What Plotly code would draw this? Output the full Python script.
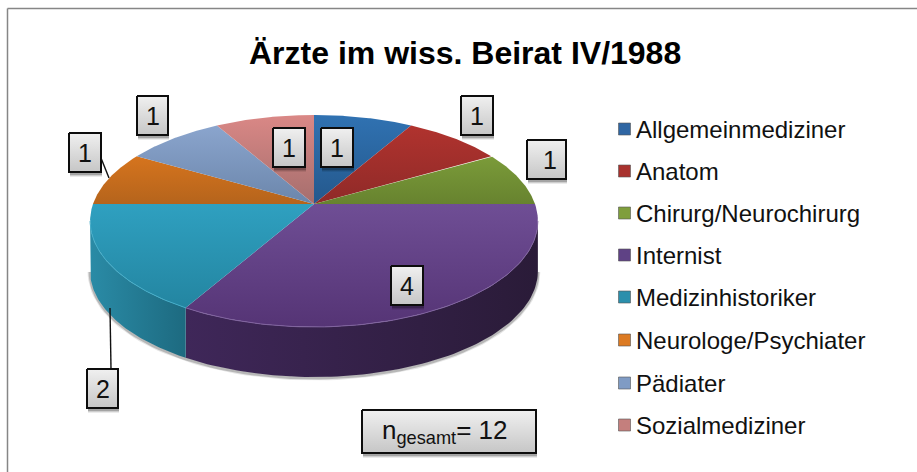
import numpy as np
import plotly.graph_objects as go

title = "Ärzte im wiss. Beirat IV/1988"
categories = ["Allgemeinmediziner", "Anatom", "Chirurg/Neurochirurg", "Internist",
              "Medizinhistoriker", "Neurologe/Psychiater", "Pädiater", "Sozialmediziner"]
values = [1, 1, 1, 4, 2, 1, 1, 1]
total_label = "n<sub>gesamt</sub>= 12"

# top face gradient (far edge, near edge), side wall gradient (left, right), rim highlight
top_colors = [("#3072b2", "#24588c"), ("#b5342f", "#8f2a28"), ("#8cb042", "#67832f"),
              ("#6f4e95", "#553475"), ("#2fa0c0", "#21809b"), ("#f2821f", "#b5641c"),
              ("#8fa9d2", "#6b86ab"), ("#da8886", "#a56e6d")]
side_colors = {3: ("#3f2759", "#2a1b38"), 4: ("#2a8ba6", "#1d6a80")}
rim_colors = {3: "#80639f", 4: "#44adc9"}
legend_colors = ["#2f66a3", "#a8322e", "#7f9e3c", "#5f4285", "#2b8fac", "#dc7a22", "#7f9bc4", "#c47f7d"]
legend_y = [129, 171, 213, 255, 297, 340, 383, 425]

# data labels: text, box left, box top, box right, box bottom
labels = [("1", 321, 128, 353, 167), ("1", 461, 96, 493, 135), ("1", 527, 140, 566, 179),
          ("4", 391, 266, 423, 305), ("2", 87, 369, 118, 408), ("1", 69, 133, 101, 172),
          ("1", 137, 96, 168, 135), ("1", 273, 128, 305, 167)]

FONT = "Liberation Sans, Arial, sans-serif"

# perspective of the tilted pie, in pixels
CX, CY = 314, 204
RX, RY, K = 221, 103.3, 0.16
DEPTH = 50


def rim(a0, a1, dy=0):
    t = np.radians(np.linspace(a0, a1, 80))
    d = 1 + K * np.cos(t)
    return CX + RX * np.sin(t) / d, CY - RY * np.cos(t) / d + dy


fig = go.Figure()


def add_box(x0, y0, x1, y1):
    # soft shadow first, then the grey box
    for off, alpha in [(5, 0.08), (4, 0.12), (3, 0.2)]:
        fig.add_trace(go.Scatter(x=[x0 + 1, x1 + 1, x1 + 1, x0 + 1, x0 + 1],
                                 y=[y0 + off, y0 + off, y1 + off, y1 + off, y0 + off],
                                 mode="lines", line_width=0, fill="toself",
                                 fillcolor=f"rgba(0,0,0,{alpha})", hoverinfo="skip"))
    fig.add_trace(go.Scatter(x=[x0, x1, x1, x0, x0], y=[y0, y0, y1, y1, y0], mode="lines",
                             line=dict(color="#0d0d0d", width=2), fill="toself",
                             fillgradient=dict(type="vertical", start=y0, stop=y1,
                                               colorscale=[[0, "#f0f0f0"], [1, "#c6c6c6"]]),
                             hoverinfo="skip"))


# slice angles come from the values
edges = np.cumsum([0] + values) / sum(values) * 360
visible_from = np.degrees(np.arccos(-K))
visible_to = 360 - visible_from

# shadow under the near edge
sx, sy = rim(visible_from, visible_to, DEPTH + 1)
for width, alpha in [(5, 0.10), (3, 0.2)]:
    fig.add_trace(go.Scatter(x=sx, y=sy, mode="lines", line=dict(color=f"rgba(0,0,0,{alpha})", width=width),
                             hoverinfo="skip"))

# side wall
for i, (a0, a1) in enumerate(zip(edges[:-1], edges[1:])):
    a0, a1 = max(a0, visible_from), min(a1, visible_to)
    if a0 >= a1:
        continue
    x0, y0 = rim(a0, a1)
    x1, y1 = rim(a0, a1, DEPTH)
    left, right = side_colors[i]
    fig.add_trace(go.Scatter(x=np.r_[x0, x1[::-1], x0[0]], y=np.r_[y0, y1[::-1], y0[0]],
                             mode="lines", line_width=0, fill="toself", name=categories[i],
                             fillgradient=dict(type="horizontal", colorscale=[[0, left], [1, right]]),
                             hoverinfo="name"))

# top face
for i, (a0, a1) in enumerate(zip(edges[:-1], edges[1:])):
    x, y = rim(a0, a1)
    far, near = top_colors[i]
    back = a1 <= 90 or a0 >= 270
    fig.add_trace(go.Scatter(x=np.r_[CX, x, CX], y=np.r_[CY, y, CY], mode="lines", line_width=0,
                             fill="toself", name=categories[i],
                             fillgradient=dict(type="vertical", start=115 if back else 204,
                                               stop=204 if back else 327,
                                               colorscale=[[0, far], [1, near]]),
                             hoverinfo="name"))
    if i in rim_colors:
        rx, ry = rim(max(a0, visible_from), min(a1, visible_to))
        fig.add_trace(go.Scatter(x=rx, y=ry, mode="lines", line=dict(color=rim_colors[i], width=1),
                                 hoverinfo="skip"))

# leader lines
for lx, ly in [([101, 109], [158, 178]), ([110, 111], [308, 369])]:
    fig.add_trace(go.Scatter(x=lx, y=ly, mode="lines", line=dict(color="#111111", width=1.4),
                             hoverinfo="skip"))

for text, x0, y0, x1, y1 in labels:
    add_box(x0, y0, x1, y1)
    # the box at the green slice is wider, its digit sits right of centre
    tx = 550 if x0 == 527 else (x0 + x1) / 2
    fig.add_annotation(x=tx, y=(y0 + y1) / 2, text=text, showarrow=False,
                       font=dict(family=FONT, size=25, color="#111111"))

add_box(362, 410, 536, 453)
fig.add_annotation(x=444, y=431, text=total_label, showarrow=False,
                   font=dict(family=FONT, size=26, color="#111111"))

# legend
fig.add_trace(go.Scatter(x=[624.5] * len(categories), y=legend_y, mode="markers",
                         marker=dict(symbol="square", size=12, color=legend_colors,
                                     line=dict(color="#555555", width=0.6)),
                         text=categories, hoverinfo="text"))
for name, y in zip(categories, legend_y):
    fig.add_annotation(x=634, y=y, text=name, showarrow=False, xanchor="left",
                       font=dict(family=FONT, size=24, color="#111111"))

fig.add_annotation(x=465, y=53, text=title, showarrow=False,
                   font=dict(family=FONT, size=32, color="#000000", weight="bold"))

# the frame is only visible along the top and the left
fig.update_layout(
    width=917, height=472, margin=dict(l=0, r=0, t=0, b=0),
    paper_bgcolor="white", plot_bgcolor="white", showlegend=False,
    shapes=[dict(type="line", x0=7.5, y0=8.5, x1=917, y1=8.5, line=dict(color="#868686", width=1.5), layer="below"),
            dict(type="line", x0=7.5, y0=8.5, x1=7.5, y1=472, line=dict(color="#868686", width=1.5), layer="below")],
)
fig.update_xaxes(range=[0, 917], visible=False, fixedrange=True)
fig.update_yaxes(range=[472, 0], visible=False, fixedrange=True)

fig.write_html("out.html", config={"displayModeBar": False},
               post_script="document.body.style.margin='0';document.body.style.overflow='hidden';")
